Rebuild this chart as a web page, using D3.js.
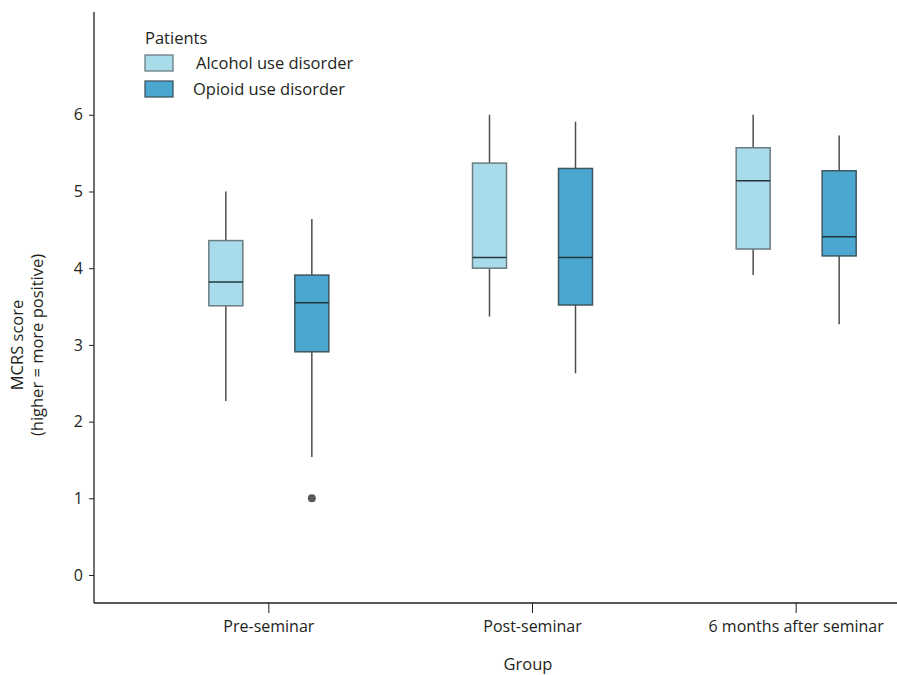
<!DOCTYPE html>
<html>
<head>
<meta charset="utf-8">
<script src="https://cdn.jsdelivr.net/npm/d3@7"></script>
<style>
  html, body { margin: 0; padding: 0; background: #fff; }
  svg { display: block; }
  text { font-family: "Open Sans", "Noto Sans", sans-serif; fill: #231f20; }
</style>
</head>
<body>
<svg id="chart" width="897" height="675"></svg>
<script>
// ---- Data ----
const groups = ["Pre-seminar", "Post-seminar", "6 months after seminar"];
const series = ["Alcohol use disorder", "Opioid use disorder"];
const yTicks = [0, 1, 2, 3, 4, 5, 6];
// [whiskerLow, Q1, median, Q3, whiskerHigh] per group
const alcoholStats = [
  [2.27, 3.51, 3.82, 4.36, 5.00],
  [3.37, 4.00, 4.14, 5.37, 6.00],
  [3.91, 4.25, 5.14, 5.57, 6.00]
];
const opioidStats = [
  [1.54, 2.91, 3.55, 3.91, 4.64],
  [2.63, 3.52, 4.14, 5.30, 5.91],
  [3.27, 4.16, 4.41, 5.27, 5.73]
];
const opioidOutliers = [[1.00], [], []];
const alcoholOutliers = [[], [], []];
const colors = ["#a8dcea", "#4ba6d0"];

// ---- Layout ----
const svg = d3.select("#chart");
const margin = { left: 94, top: 12, right: 0, bottom: 72 };
const W = 897, H = 675;
const plotBottom = H - margin.bottom; // 603

const y = d3.scaleLinear().domain([-0.365, 7.34]).range([plotBottom, margin.top]);
const x = d3.scaleBand().domain(groups).range([137, 928]).padding(0);
const sub = d3.scaleBand().domain(series).range([-86, 86]);
const boxW = 34;

// Axes
const yAxis = d3.axisLeft(y).tickValues(yTicks).tickSize(5).tickPadding(6).tickFormat(d3.format("d"));
const gy = svg.append("g").attr("transform", `translate(${margin.left},0)`).call(yAxis);
gy.select(".domain").attr("d", `M-0,${margin.top}V${plotBottom}`);
gy.selectAll("text").style("font-size", "16px");

const xAxis = d3.axisBottom(x).tickSize(10).tickPadding(8);
const gx = svg.append("g").attr("transform", `translate(0,${plotBottom})`).call(xAxis);
gx.select(".domain").attr("d", `M${margin.left},0H${W}`);
gx.selectAll("text").style("font-size", "16px");

[gx, gy].forEach(g => {
  g.select(".domain").attr("stroke", "#231f20").attr("stroke-width", 1.3);
  g.selectAll(".tick line").attr("stroke", "#231f20").attr("stroke-width", 1);
  g.selectAll("text").attr("fill", "#231f20");
});

// Boxes
const allStats = [alcoholStats, opioidStats];
const allOut = [alcoholOutliers, opioidOutliers];
series.forEach((s, si) => {
  groups.forEach((g, gi) => {
    const st = allStats[si][gi];
    const cx = x(g) + x.bandwidth() / 2 + sub(s) + sub.bandwidth() / 2;
    const grp = svg.append("g");
    // whiskers
    grp.append("line").attr("x1", cx).attr("x2", cx)
      .attr("y1", y(st[4])).attr("y2", y(st[3]))
      .attr("stroke", "#4d4d4f").attr("stroke-width", 1.5);
    grp.append("line").attr("x1", cx).attr("x2", cx)
      .attr("y1", y(st[1])).attr("y2", y(st[0]))
      .attr("stroke", "#4d4d4f").attr("stroke-width", 1.5);
    // box
    grp.append("rect")
      .attr("x", cx - boxW / 2).attr("width", boxW)
      .attr("y", y(st[3])).attr("height", y(st[1]) - y(st[3]))
      .attr("fill", colors[si])
      .attr("stroke", si === 0 ? "#6b7b80" : "#3d5862").attr("stroke-width", 1.5);
    // median
    grp.append("line")
      .attr("x1", cx - boxW / 2).attr("x2", cx + boxW / 2)
      .attr("y1", y(st[2])).attr("y2", y(st[2]))
      .attr("stroke", "#25363d").attr("stroke-width", 1.5);
    // outliers
    allOut[si][gi].forEach(v => {
      grp.append("circle").attr("cx", cx).attr("cy", y(v)).attr("r", 4)
        .attr("fill", "#58595b");
    });
  });
});

// Axis titles
svg.append("text").attr("x", 528).attr("y", 670).attr("text-anchor", "middle")
  .style("font-size", "16.5px").text("Group");
const yt = svg.append("text")
  .attr("transform", `translate(0,345) rotate(-90)`)
  .attr("text-anchor", "middle").style("font-size", "16.5px");
yt.append("tspan").attr("x", 0).attr("y", 23).text("MCRS score");
yt.append("tspan").attr("x", 0).attr("y", 43).text("(higher = more positive)");

// Legend
const lg = svg.append("g");
lg.append("text").attr("x", 145).attr("y", 44).style("font-size", "16.5px").text("Patients");
series.forEach((s, i) => {
  lg.append("rect").attr("x", 145).attr("y", 55 + i * 26).attr("width", 28).attr("height", 16)
    .attr("fill", colors[i]).attr("stroke", i === 0 ? "#6b7b80" : "#3d5862").attr("stroke-width", 1.3);
  lg.append("text").attr("x", i === 0 ? 196 : 193).attr("y", 69 + i * 26)
    .style("font-size", "16.5px").text(s);
});
</script>
</body>
</html>
